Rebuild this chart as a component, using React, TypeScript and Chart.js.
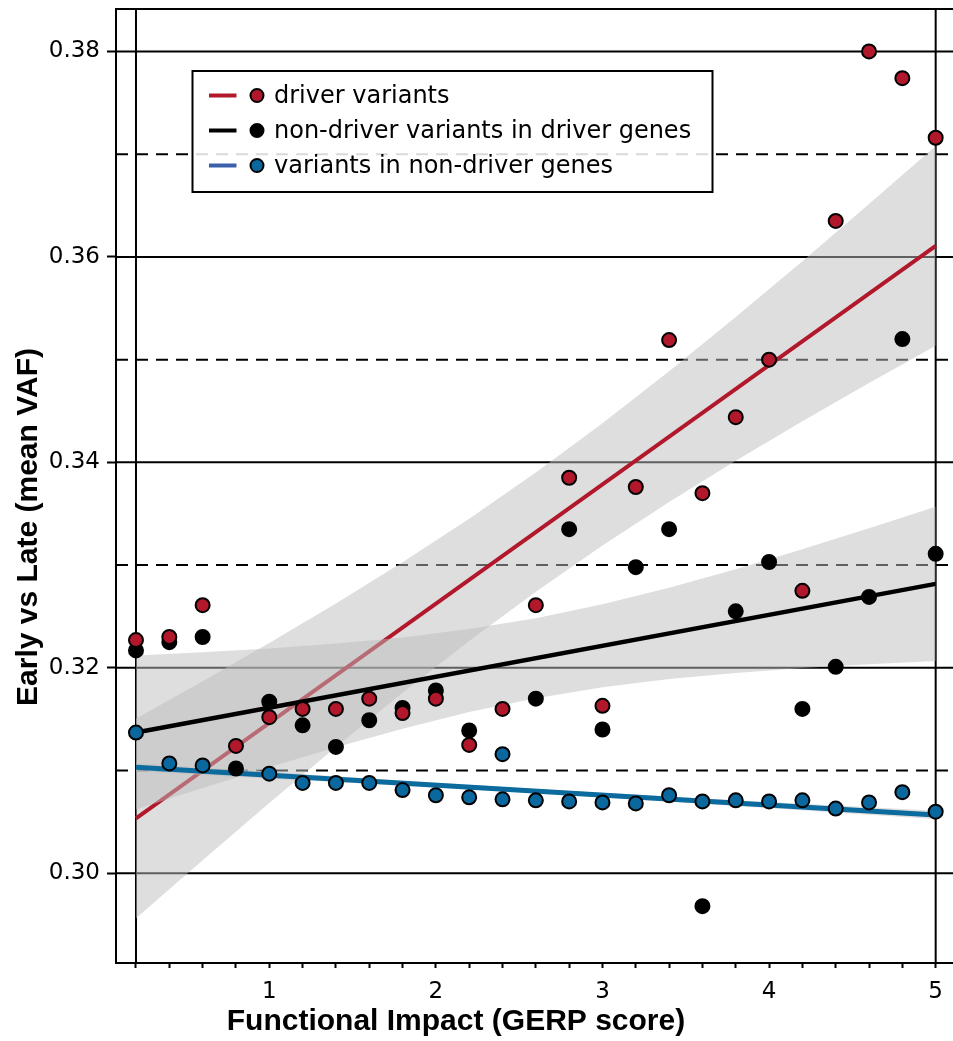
import React, { useEffect, useRef } from 'react';
import { Chart, registerables } from 'chart.js';

Chart.register(...registerables);

// ---- data ----
const gerpScores = [0.2, 0.4, 0.6, 0.8, 1.0, 1.2, 1.4, 1.6, 1.8, 2.0, 2.2, 2.4, 2.6, 2.8, 3.0, 3.2, 3.4, 3.6, 3.8, 4.0, 4.2, 4.4, 4.6, 4.8, 5.0];
const driverVaf = [0.3227, 0.3230, 0.3261, 0.3124, 0.3152, 0.3160, 0.3160, 0.3170, 0.3156, 0.3170, 0.3125, 0.3160, 0.3261, 0.3385, 0.3163, 0.3376, 0.3519, 0.3370, 0.3444, 0.3500, 0.3275, 0.3635, 0.3800, 0.3774, 0.3716];
const nonDriverVaf = [0.3217, 0.3225, 0.3230, 0.3102, 0.3167, 0.3144, 0.3123, 0.3149, 0.3161, 0.3178, 0.3139, null, 0.3170, 0.3335, 0.3140, 0.3298, 0.3335, 0.2968, 0.3255, 0.3303, 0.3160, 0.3201, 0.3269, 0.3520, 0.3311];
const nonDriverGeneScores = [0.2, 0.4, 0.6, 1.0, 1.2, 1.4, 1.6, 1.8, 2.0, 2.2, 2.4, 2.4, 2.6, 2.8, 3.0, 3.2, 3.4, 3.6, 3.8, 4.0, 4.2, 4.4, 4.6, 4.8, 5.0];
const nonDriverGeneVaf = [0.3137, 0.3107, 0.3105, 0.3097, 0.3088, 0.3088, 0.3088, 0.3081, 0.3076, 0.3074, 0.3116, 0.3072, 0.3071, 0.3070, 0.3069, 0.3068, 0.3076, 0.3070, 0.3071, 0.3070, 0.3071, 0.3063, 0.3069, 0.3079, 0.3060];

const fitX = [0.2, 5.0];
const driverFit = [0.30535, 0.36108];
const nonDriverFit = [0.3137, 0.32817];
const nonDriverGeneFit = [0.31032, 0.30568];

const bandX = [0.2, 0.6, 1.0, 1.4, 1.8, 2.2, 2.6, 3.0, 3.4, 3.8, 4.2, 4.6, 5.0];
const driverLo = [0.29563, 0.30128, 0.30685, 0.31229, 0.31757, 0.32262, 0.32741, 0.33191, 0.33614, 0.34016, 0.34400, 0.34773, 0.35136];
const driverHi = [0.31507, 0.31870, 0.32243, 0.32627, 0.33029, 0.33452, 0.33901, 0.34381, 0.34886, 0.35414, 0.35958, 0.36515, 0.37080];
const nonDriverLo = [0.30620, 0.30830, 0.31033, 0.31228, 0.31408, 0.31569, 0.31705, 0.31810, 0.31891, 0.31951, 0.31998, 0.32036, 0.32067];
const nonDriverHi = [0.32120, 0.32152, 0.32189, 0.32236, 0.32296, 0.32377, 0.32483, 0.32618, 0.32779, 0.32959, 0.33154, 0.33358, 0.33567];
const nonDriverGeneLo = [0.30992, 0.30957, 0.30923, 0.30888, 0.30852, 0.30817, 0.30779, 0.30739, 0.30698, 0.30656, 0.30613, 0.30571, 0.30528];
const nonDriverGeneHi = [0.31072, 0.31029, 0.30987, 0.30944, 0.30902, 0.30861, 0.30821, 0.30783, 0.30748, 0.30712, 0.30677, 0.30643, 0.30608];

const yTickValues = [0.30, 0.32, 0.34, 0.36, 0.38];
const xTickValues = [0.2, 0.4, 0.6, 0.8, 1.0, 1.2, 1.4, 1.6, 1.8, 2.0, 2.2, 2.4, 2.6, 2.8, 3.0, 3.2, 3.4, 3.6, 3.8, 4.0, 4.2, 4.4, 4.6, 4.8, 5.0];
const gridSolid = [0.30, 0.32, 0.34, 0.36, 0.38];
const gridDashed = [0.31, 0.33, 0.35, 0.37];
const verticalLines = [0.2, 5.0];

const legendLabels = ['driver variants', 'non-driver variants in driver genes', 'variants in non-driver genes'];
const xTitle = 'Functional Impact (GERP score)';
const yTitle = 'Early vs Late (mean VAF)';

// ---- styles ----
const RED = '#b2182b';
const BLUE_MARK = '#0b689e';
const BLUE_LINE = '#0b6a9e';
const BLUE_LEGEND = '#3a60aa';
const BAND = 'rgba(190,190,190,0.5)';
const legendLineColors = [RED, '#000000', BLUE_LEGEND];
const legendMarkColors = [RED, '#000000', BLUE_MARK];

const pts = (xs: number[], ys: (number | null)[]) => xs.map((x, i) => ({ x, y: ys[i] }));

const decorPlugin = {
  id: 'decor',
  beforeDatasetsDraw(chart: any) {
    const { ctx, chartArea: a, scales } = chart;
    const y = scales.y;
    const x = scales.x;
    ctx.save();
    ctx.beginPath();
    ctx.rect(a.left, a.top, a.right - a.left, a.bottom - a.top);
    ctx.clip();
    ctx.strokeStyle = '#000';
    ctx.lineWidth = 2;
    gridSolid.forEach((v) => {
      const py = y.getPixelForValue(v);
      ctx.beginPath();
      ctx.moveTo(a.left, py);
      ctx.lineTo(a.right, py);
      ctx.stroke();
    });
    ctx.setLineDash([12, 8]);
    gridDashed.forEach((v) => {
      const py = y.getPixelForValue(v);
      ctx.beginPath();
      ctx.moveTo(a.left, py);
      ctx.lineTo(a.right, py);
      ctx.stroke();
    });
    ctx.setLineDash([]);
    verticalLines.forEach((v) => {
      const px = x.getPixelForValue(v);
      ctx.beginPath();
      ctx.moveTo(px, a.top);
      ctx.lineTo(px, a.bottom);
      ctx.stroke();
    });
    ctx.restore();
  },
  afterDraw(chart: any) {
    const { ctx, chartArea: a } = chart;
    ctx.save();
    // top spine
    ctx.strokeStyle = '#000';
    ctx.lineWidth = 2;
    ctx.beginPath();
    ctx.moveTo(a.left - 1, a.top);
    ctx.lineTo(a.right, a.top);
    ctx.stroke();

    // legend
    const lx = a.left + 76.5;
    const ly = a.top + 62;
    const lw = 520;
    const lh = 121;
    ctx.fillStyle = 'rgba(255,255,255,0.85)';
    ctx.fillRect(lx, ly, lw, lh);
    ctx.strokeRect(lx, ly, lw, lh);
    ctx.font = '24px "DejaVu Sans"';
    ctx.textBaseline = 'middle';
    ctx.textAlign = 'left';
    legendLabels.forEach((label, i) => {
      const ry = ly + 24.5 + i * 35;
      ctx.strokeStyle = legendLineColors[i];
      ctx.lineWidth = 4;
      ctx.beginPath();
      ctx.moveTo(lx + 16.5, ry);
      ctx.lineTo(lx + 44, ry);
      ctx.stroke();
      ctx.beginPath();
      ctx.arc(lx + 64.5, ry, 6.5, 0, Math.PI * 2);
      ctx.fillStyle = legendMarkColors[i];
      ctx.fill();
      ctx.lineWidth = 2;
      ctx.strokeStyle = '#000';
      ctx.stroke();
      ctx.fillStyle = '#000';
      ctx.fillText(label, lx + 81.5, ry + 1);
    });

    // axis titles
    ctx.fillStyle = '#000';
    ctx.font = 'bold 30px "Liberation Sans"';
    ctx.textAlign = 'center';
    ctx.textBaseline = 'alphabetic';
    ctx.fillText(xTitle, 456, 1030);
    ctx.translate(37, 527);
    ctx.rotate(-Math.PI / 2);
    ctx.fillText(yTitle, 0, 0);
    ctx.restore();
  },
};

export default function App() {
  const canvasRef = useRef<HTMLCanvasElement | null>(null);

  useEffect(() => {
    if (!canvasRef.current) return;
    const line = (data: any, color: string, width: number, order: number) => ({
      data,
      showLine: true,
      borderColor: color,
      borderWidth: width,
      pointRadius: 0,
      fill: false,
      order,
    });
    const bandLo = (data: any, order: number) => ({
      data,
      showLine: true,
      borderColor: 'rgba(0,0,0,0)',
      borderWidth: 1,
      pointRadius: 0,
      fill: false,
      order,
    });
    const bandHi = (data: any, target: number, order: number) => ({
      data,
      showLine: true,
      borderColor: 'rgba(0,0,0,0)',
      borderWidth: 1,
      pointRadius: 0,
      backgroundColor: BAND,
      fill: { target },
      order,
    });
    const scatter = (data: any, color: string, order: number) => ({
      data,
      showLine: false,
      pointRadius: 7,
      pointBorderWidth: 2,
      pointBorderColor: '#000',
      pointBackgroundColor: color,
      order,
    });

    const datasets = [
      bandLo(pts(bandX, driverLo), 100), // 0
      bandHi(pts(bandX, driverHi), 0, 90), // 1
      line(pts(fitX, driverFit), RED, 4, 80), // 2
      bandLo(pts(bandX, nonDriverLo), 100), // 3
      bandHi(pts(bandX, nonDriverHi), 3, 70), // 4
      line(pts(fitX, nonDriverFit), '#000', 4.5, 60), // 5
      bandLo(pts(bandX, nonDriverGeneLo), 100), // 6
      bandHi(pts(bandX, nonDriverGeneHi), 6, 50), // 7
      line(pts(fitX, nonDriverGeneFit), BLUE_LINE, 5, 40), // 8
      scatter(pts(nonDriverGeneScores, nonDriverGeneVaf), BLUE_MARK, 30), // 9
      scatter(pts(gerpScores, nonDriverVaf), '#000', 20), // 10
      scatter(pts(gerpScores, driverVaf), RED, 10), // 11
    ];

    const chart = new Chart(canvasRef.current, {
      type: 'scatter',
      data: { datasets } as any,
      options: {
        animation: false,
        responsive: false,
        devicePixelRatio: 1,
        layout: { autoPadding: false, padding: { top: 9, left: 0, right: 0, bottom: 0 } },
        plugins: { legend: { display: false }, tooltip: { enabled: false } },
        scales: {
          x: {
            type: 'linear',
            min: 0.08,
            max: 5.104,
            afterFit: (s: any) => { s.height = 78; s.paddingLeft = 0; s.paddingRight = 0; },
            afterBuildTicks: (s: any) => { s.ticks = xTickValues.map((v) => ({ value: v })); },
            ticks: {
              autoSkip: false,
              maxRotation: 0,
              padding: 10,
              color: '#000',
              font: { family: 'DejaVu Sans', size: 23 },
              callback: (v: any) => (Math.abs(v - Math.round(v)) < 1e-6 ? String(Math.round(v)) : ''),
            },
            grid: { drawOnChartArea: false, drawTicks: true, tickLength: 5, tickWidth: 2, tickColor: '#000' },
            border: { display: true, color: '#000', width: 2 },
          },
          y: {
            type: 'linear',
            min: 0.29127,
            max: 0.38413,
            afterFit: (s: any) => { s.width = 116; s.paddingTop = 0; s.paddingBottom = 0; },
            afterBuildTicks: (s: any) => { s.ticks = yTickValues.map((v) => ({ value: v })); },
            ticks: {
              autoSkip: false,
              padding: 7,
              color: '#000',
              font: { family: 'DejaVu Sans', size: 23 },
              callback: (v: any) => Number(v).toFixed(2),
            },
            grid: { drawOnChartArea: false, drawTicks: true, tickLength: 9, tickWidth: 2, tickColor: '#000' },
            border: { display: true, color: '#000', width: 2 },
          },
        },
      },
      plugins: [decorPlugin],
    } as any);
    return () => chart.destroy();
  }, []);

  return (
    <div style={{ position: 'absolute', left: 0, top: 0, width: 953, height: 1041, overflow: 'hidden', background: '#fff' }}>
      <canvas ref={canvasRef} width={953} height={1041} style={{ display: 'block' }} />
    </div>
  );
}
